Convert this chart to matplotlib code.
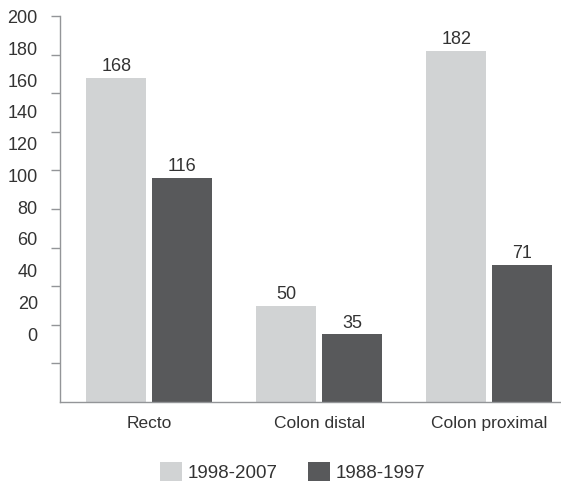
import matplotlib
matplotlib.use("Agg")
import matplotlib.pyplot as plt
import numpy as np
from matplotlib.font_manager import fontManager

categorias = ["Recto", "Colon distal", "Colon proximal"]
periodos = ["1998-2007", "1988-1997"]
casos_1998_2007 = [168, 50, 182]
casos_1988_1997 = [116, 35, 71]
marcas_y = [20, 40, 60, 80, 100, 120, 140, 160, 180, 200]
rotulos_y = [0, 20, 40, 60, 80, 100, 120, 140, 160, 180, 200]

nomes = {f.name for f in fontManager.ttflist}
fonte = "Liberation Sans Narrow" if "Liberation Sans Narrow" in nomes else "Liberation Sans"
plt.rcParams["font.family"] = [fonte, "DejaVu Sans"]

cor_clara = "#d1d3d4"
cor_escura = "#58595b"
cor_texto = "#333333"
cor_eixo = "#939598"

fig = plt.figure(figsize=(5.61, 4.86), dpi=100)
ax = fig.add_axes([60 / 561, 84 / 486, 501 / 561, 386 / 486])

x = np.arange(len(categorias))
larg = 0.353
desl = 0.194
b1 = ax.bar(x - desl, casos_1998_2007, larg, color=cor_clara, label=periodos[0])
b2 = ax.bar(x + desl, casos_1988_1997, larg, color=cor_escura, label=periodos[1])

for barras in (b1, b2):
    ax.bar_label(barras, padding=2, fontsize=13, color=cor_texto)

ax.set_xlim(-0.526, 2.421)
ax.set_ylim(0, 200)

for lado in ("top", "right"):
    ax.spines[lado].set_visible(False)
for lado in ("left", "bottom"):
    ax.spines[lado].set_color(cor_eixo)
    ax.spines[lado].set_linewidth(1.0)

ax.set_xticks(x, categorias, fontsize=12.5, color=cor_texto)
ax.tick_params(axis="x", length=0, pad=10)

# marcas do eixo y sem rotulo; os numeros ficam num eixo secundario comprimido
ax.set_yticks(marcas_y, [""] * len(marcas_y))
ax.tick_params(axis="y", length=6.5, width=1.0, color=cor_eixo)

base, passo = 35.2, 0.822
sec = ax.secondary_yaxis("left", functions=(lambda y: (y - base) / passo,
                                            lambda v: base + passo * v))
sec.set_yticks(rotulos_y)
sec.spines["left"].set_visible(False)
sec.tick_params(axis="y", length=0, pad=16, labelsize=13, labelcolor=cor_texto)

fig.legend(handles=[b1, b2], labels=periodos, loc="center", ncol=2,
           bbox_to_anchor=(0.522, 0.029), frameon=False, fontsize=13.5,
           handlelength=1.2, handleheight=1.2, handletextpad=0.3,
           columnspacing=1.6, labelcolor=cor_texto)

fig.savefig("out.png", dpi=100)
